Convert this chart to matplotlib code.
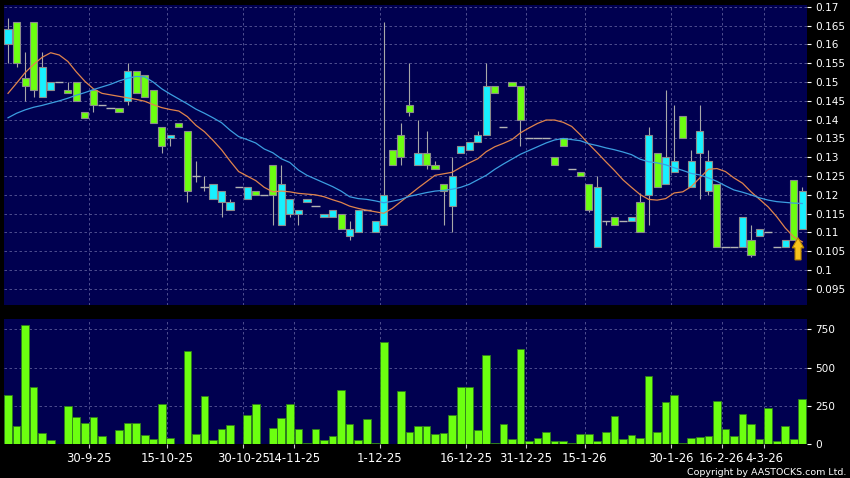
import numpy as np
import matplotlib
matplotlib.use("Agg")
import matplotlib.pyplot as plt
from matplotlib.patches import Rectangle, FancyArrow
from matplotlib.ticker import FixedLocator, FuncFormatter

# ---- daily bars (open, high, low, close) ----
opens = [0.160, 0.166, 0.151, 0.166, 0.146, 0.148, 0.150, 0.148, 0.150, 0.142,
         0.148, 0.144, 0.143, 0.143, 0.145, 0.153, 0.152, 0.148, 0.138, 0.135,
         0.139, 0.137, 0.125, 0.122, 0.119, 0.118, 0.116, 0.122, 0.119, 0.121,
         0.120, 0.128, 0.112, 0.115, 0.115, 0.118, 0.117, 0.114, 0.114, 0.115,
         0.109, 0.110, 0.116, 0.110, 0.112, 0.132, 0.136, 0.144, 0.128, 0.131,
         0.128, 0.123, 0.117, 0.131, 0.132, 0.134, 0.136, 0.149, 0.138, 0.150,
         0.149, 0.135, 0.135, 0.135, 0.130, 0.135, 0.127, 0.126, 0.123, 0.106,
         0.113, 0.114, 0.113, 0.113, 0.118, 0.120, 0.131, 0.123, 0.126, 0.141,
         0.122, 0.131, 0.121, 0.123, 0.106, 0.106, 0.106, 0.108, 0.109, 0.110,
         0.106, 0.106, 0.124, 0.111]
highs = [0.167, 0.166, 0.158, 0.166, 0.158, 0.150, 0.150, 0.150, 0.150, 0.142,
         0.148, 0.144, 0.143, 0.143, 0.155, 0.153, 0.152, 0.148, 0.138, 0.136,
         0.139, 0.137, 0.129, 0.125, 0.123, 0.121, 0.119, 0.122, 0.122, 0.121,
         0.120, 0.128, 0.128, 0.119, 0.116, 0.119, 0.117, 0.115, 0.116, 0.115,
         0.113, 0.116, 0.116, 0.113, 0.166, 0.132, 0.139, 0.155, 0.140, 0.137,
         0.129, 0.123, 0.130, 0.133, 0.134, 0.137, 0.155, 0.149, 0.138, 0.150,
         0.149, 0.135, 0.135, 0.135, 0.130, 0.135, 0.127, 0.126, 0.123, 0.125,
         0.113, 0.114, 0.113, 0.114, 0.1205, 0.138, 0.131, 0.148, 0.144, 0.141,
         0.132, 0.144, 0.132, 0.123, 0.106, 0.106, 0.114, 0.112, 0.111, 0.110,
         0.106, 0.108, 0.124, 0.122]
lows = [0.155, 0.154, 0.145, 0.146, 0.146, 0.148, 0.150, 0.147, 0.145, 0.1405,
        0.142, 0.144, 0.143, 0.142, 0.144, 0.147, 0.146, 0.139, 0.131, 0.133,
        0.138, 0.118, 0.1235, 0.121, 0.119, 0.114, 0.116, 0.122, 0.119, 0.120,
        0.120, 0.112, 0.112, 0.114, 0.112, 0.118, 0.117, 0.114, 0.114, 0.111,
        0.108, 0.110, 0.116, 0.110, 0.112, 0.128, 0.128, 0.141, 0.128, 0.127,
        0.127, 0.112, 0.110, 0.131, 0.132, 0.134, 0.136, 0.147, 0.138, 0.149,
        0.133, 0.135, 0.135, 0.135, 0.128, 0.133, 0.127, 0.125, 0.1155, 0.106,
        0.112, 0.112, 0.113, 0.113, 0.110, 0.112, 0.122, 0.123, 0.126, 0.135,
        0.122, 0.119, 0.120, 0.106, 0.106, 0.106, 0.106, 0.1035, 0.109, 0.110,
        0.106, 0.106, 0.108, 0.111]
closes = [0.164, 0.155, 0.149, 0.148, 0.154, 0.150, 0.150, 0.147, 0.145, 0.1405,
          0.144, 0.144, 0.143, 0.142, 0.153, 0.147, 0.146, 0.139, 0.133, 0.136,
          0.138, 0.121, 0.125, 0.122, 0.123, 0.121, 0.118, 0.122, 0.122, 0.120,
          0.120, 0.120, 0.123, 0.119, 0.116, 0.119, 0.117, 0.115, 0.116, 0.111,
          0.111, 0.116, 0.116, 0.113, 0.120, 0.128, 0.130, 0.142, 0.131, 0.128,
          0.127, 0.121, 0.125, 0.133, 0.134, 0.136, 0.149, 0.147, 0.138, 0.149,
          0.140, 0.135, 0.135, 0.135, 0.128, 0.133, 0.127, 0.125, 0.116, 0.122,
          0.113, 0.112, 0.113, 0.114, 0.110, 0.136, 0.122, 0.130, 0.129, 0.135,
          0.129, 0.137, 0.129, 0.106, 0.106, 0.106, 0.114, 0.104, 0.111, 0.110,
          0.106, 0.108, 0.108, 0.121]

# volume (thousand shares)
volume = [319, 116, 778, 370, 70, 26, 2, 247, 175, 140,
          175, 50, 2, 90, 136, 140, 57, 31, 265, 42,
          3, 608, 66, 313, 26, 96, 127, 3, 190, 260,
          3, 107, 170, 260, 100, 4, 96, 26, 52, 354,
          131, 24, 166, 4, 667, 3, 350, 81, 120, 116,
          66, 70, 190, 374, 374, 90, 580, 4, 133, 31,
          619, 22, 37, 81, 22, 17, 9, 66, 66, 17,
          79, 181, 33, 57, 42, 448, 81, 273, 319, 4,
          37, 46, 55, 284, 100, 55, 199, 129, 31, 236,
          20, 116, 35, 295]

# moving averages as drawn on the chart
ma_short = [0.147, 0.1497, 0.1525, 0.1547, 0.1566, 0.1578, 0.1572, 0.1555, 0.1527, 0.1502,
            0.1482, 0.147, 0.1466, 0.1462, 0.1458, 0.1454, 0.1449, 0.144, 0.1432, 0.1427,
            0.1423, 0.1408, 0.1385, 0.1368, 0.1345, 0.132, 0.129, 0.1262, 0.125, 0.1238,
            0.122, 0.1208, 0.121, 0.1208, 0.1204, 0.1202, 0.12, 0.1195, 0.1187, 0.118,
            0.117, 0.1164, 0.1159, 0.1155, 0.1151, 0.1164, 0.1182, 0.12, 0.1218, 0.1235,
            0.1252, 0.1256, 0.126, 0.1273, 0.1285, 0.1296, 0.1315, 0.1328, 0.1337, 0.1347,
            0.1365, 0.1378, 0.139, 0.1399, 0.1399, 0.1393, 0.1382, 0.136, 0.1335, 0.1312,
            0.1288, 0.1265, 0.124, 0.122, 0.1201, 0.1188, 0.1186, 0.119, 0.1205, 0.1208,
            0.1222, 0.1245, 0.1268, 0.127, 0.1262, 0.1245, 0.1231, 0.1208, 0.1188, 0.1168,
            0.1142, 0.1112, 0.1088, 0.1075]
ma_long = [0.1405, 0.1417, 0.1426, 0.1433, 0.1438, 0.1444, 0.145, 0.1457, 0.1465, 0.1472,
           0.148, 0.1487, 0.1494, 0.1503, 0.151, 0.1515, 0.1514, 0.15, 0.1482, 0.1468,
           0.1455, 0.1442, 0.1428, 0.1417, 0.1405, 0.1392, 0.1372, 0.1355, 0.1347, 0.1338,
           0.1322, 0.1312, 0.1296, 0.1286, 0.1266, 0.1252, 0.1242, 0.1232, 0.1222, 0.121,
           0.1195, 0.119, 0.1188, 0.1184, 0.1179, 0.1183, 0.1188, 0.1196, 0.1201, 0.1206,
           0.121, 0.1212, 0.1215, 0.122, 0.1228, 0.124, 0.1252, 0.1268, 0.1282, 0.1295,
           0.1308, 0.1318, 0.1328, 0.1338, 0.1346, 0.135, 0.1347, 0.1344, 0.1336, 0.1331,
           0.1325, 0.132, 0.1314, 0.1307, 0.1295, 0.1288, 0.1285, 0.128, 0.1272, 0.1265,
           0.1257, 0.1253, 0.1245, 0.1236, 0.1224, 0.1213, 0.1207, 0.12, 0.1192, 0.1186,
           0.1182, 0.118, 0.1178, 0.1177]

date_labels = ["30-9-25", "15-10-25", "30-10-25", "14-11-25", "1-12-25", "16-12-25",
               "31-12-25", "15-1-26", "30-1-26", "16-2-26", "4-3-26"]
date_pos = [9.5, 18.6, 27.55, 33.5, 43.5, 53.6, 60.6, 67.5, 77.6, 83.55, 88.55]

price_ticks = [0.095, 0.1, 0.105, 0.11, 0.115, 0.12, 0.125, 0.13, 0.135,
               0.14, 0.145, 0.15, 0.155, 0.16, 0.165, 0.17]
vol_ticks = [0, 250, 500, 750]

BG = "#000050"
GRID = "#5a5a98"
UP = "#18f0ff"
DOWN = "#6cff10"
WICK = "#a8a8a8"

W, H = 850, 478
fig = plt.figure(figsize=(W / 100, H / 100), dpi=100, facecolor="black")
ax = fig.add_axes([4 / W, 1 - 305 / H, 803 / W, 300 / H])
axv = fig.add_axes([4 / W, 1 - 444 / H, 803 / W, 125 / H], sharex=ax)

for a in (ax, axv):
    a.set_facecolor(BG)
    for s in a.spines.values():
        s.set_visible(False)
    a.yaxis.tick_right()
    a.tick_params(axis="y", colors="white", labelcolor="white", length=3,
                  width=0.8, pad=3, labelsize=7.6)
    a.set_axisbelow(True)
    a.grid(True, color=GRID, linestyle=(0, (3, 3)), linewidth=0.6)

n = len(closes)
x = np.arange(n)

# candles
for i in range(n):
    o, h, l, c = opens[i], highs[i], lows[i], closes[i]
    if h > l:
        ax.vlines(i, l, h, color=WICK, lw=0.8, zorder=2)
    if c == o:
        ax.hlines(o, i - 0.48, i + 0.48, color="#b4b4b4", lw=1.0, zorder=3)
        continue
    col = UP if c > o else DOWN
    ax.add_patch(Rectangle((i - 0.42, min(o, c)), 0.84, abs(c - o),
                           facecolor=col, edgecolor="#8c8c8c", lw=0.8, zorder=3))

ax.plot(x, ma_short, color="#e0844c", lw=0.9, zorder=4)
ax.plot(x, ma_long, color="#3c9ee0", lw=0.9, zorder=4)

# signal arrow
ax.add_patch(FancyArrow(92.5, 0.1027, 0, 0.0059, width=0.7, head_width=1.35,
                        head_length=0.0027, length_includes_head=True,
                        facecolor="#f6c21c", edgecolor="#b88400", lw=0.8, zorder=6))

ax.set_xlim(-0.47, 93.55)
ax.set_ylim(0.0907, 0.1705)
ax.yaxis.set_major_locator(FixedLocator(price_ticks))
ax.yaxis.set_major_formatter(FuncFormatter(lambda v, p: "%g" % round(v, 3)))
ax.xaxis.set_major_locator(FixedLocator(date_pos))
ax.tick_params(axis="x", length=0, labelbottom=False)

# volume
axv.bar(x, volume, width=0.9, color=DOWN, edgecolor="#2e7d1c", lw=0.6, zorder=3)
axv.set_ylim(0, 818)
axv.yaxis.set_major_locator(FixedLocator(vol_ticks))
axv.xaxis.set_major_locator(FixedLocator(date_pos))
axv.set_xticklabels(date_labels)
axv.tick_params(axis="x", colors="#c8c8c8", labelcolor="white", length=3,
                width=0.8, pad=3, labelsize=8.4)

fig.text(846 / W, 1 - 475 / H, "Copyright by AASTOCKS.com Ltd.", ha="right",
         va="baseline", color="white", fontsize=6.8)

fig.savefig("out.png", dpi=100, facecolor="black")
